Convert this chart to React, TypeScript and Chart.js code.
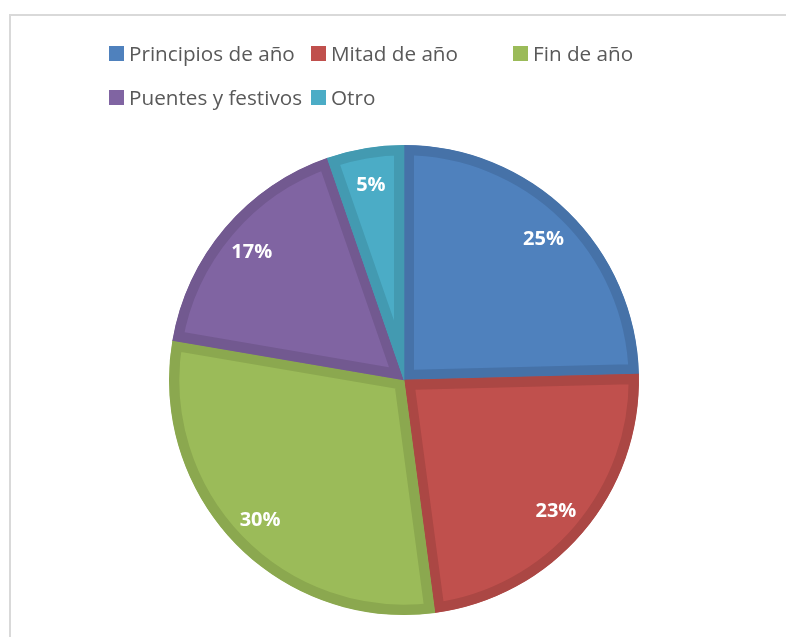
import React, { useEffect, useRef } from "react";
import { Chart, registerables } from "chart.js";

Chart.register(...registerables);

const categories = ["Principios de año", "Mitad de año", "Fin de año", "Puentes y festivos", "Otro"];
const shares = [24.6, 23.3, 29.8, 17.0, 5.3];
const fillColors = ["#4F81BD", "#C0504D", "#9BBB59", "#8064A2", "#4BACC6"];
const borderColors = ["#4672A8", "#AB4744", "#8BA84F", "#725990", "#439AB1"];

const W = 786;
const H = 637;

const legendPlugin = {
  id: "gridLegend",
  afterDraw(chart: any) {
    const ctx = chart.ctx;
    ctx.save();
    ctx.font = "20.7px 'Open Sans'";
    ctx.textBaseline = "alphabetic";
    ctx.textAlign = "left";
    categories.forEach((name, i) => {
      const col = i % 3;
      const row = Math.floor(i / 3);
      const bx = 109 + col * 202;
      const by = 46 + row * 44;
      ctx.fillStyle = fillColors[i];
      ctx.fillRect(bx, by, 15, 15);
      ctx.fillStyle = "#595959";
      ctx.fillText(name, bx + 20, by + 15);
    });
    ctx.restore();
  },
};

const labelPlugin = {
  id: "sliceLabels",
  afterDatasetsDraw(chart: any) {
    const ctx = chart.ctx;
    const meta = chart.getDatasetMeta(0);
    const data = chart.data.datasets[0].data as number[];
    const total = data.reduce((a, b) => a + b, 0);
    ctx.save();
    ctx.font = "bold 20px 'Open Sans'";
    ctx.fillStyle = "#FFFFFF";
    ctx.textAlign = "center";
    ctx.textBaseline = "middle";
    meta.data.forEach((arc: any, i: number) => {
      const p = arc.getProps(["x", "y", "startAngle", "endAngle", "outerRadius"], true);
      const mid = (p.startAngle + p.endAngle) / 2;
      const r = p.outerRadius * 0.85;
      const tx = p.x + Math.cos(mid) * r;
      const ty = p.y + Math.sin(mid) * r + 2;
      ctx.fillText(Math.round((data[i] / total) * 100) + "%", tx, ty);
    });
    ctx.restore();
  },
};

export default function App() {
  const ref = useRef<HTMLCanvasElement | null>(null);

  useEffect(() => {
    if (!ref.current) return;
    const chart = new Chart(ref.current, {
      type: "pie",
      data: {
        labels: categories,
        datasets: [
          {
            data: shares,
            backgroundColor: fillColors,
            borderColor: borderColors,
            borderWidth: 10,
            borderAlign: "inner",
          } as any,
        ],
      },
      options: {
        animation: false,
        responsive: false,
        maintainAspectRatio: false,
        radius: 235,
        layout: { padding: { left: 22, right: 0, top: 123, bottom: 0 } },
        plugins: {
          legend: { display: false },
          tooltip: { enabled: false },
        },
      } as any,
      plugins: [legendPlugin, labelPlugin],
    });
    return () => chart.destroy();
  }, []);

  return (
    <div
      style={{
        position: "fixed",
        left: 0,
        top: 0,
        width: W,
        height: H,
        overflow: "hidden",
        background: "#FFFFFF",
      }}
    >
      <div
        style={{
          position: "absolute",
          left: 9,
          top: 14,
          width: 900,
          height: 900,
          border: "2px solid #D9D9D9",
          boxSizing: "border-box",
        }}
      />
      <canvas
        ref={ref}
        width={W}
        height={H}
        style={{ position: "absolute", left: 0, top: 0, width: W, height: H }}
      />
    </div>
  );
}
